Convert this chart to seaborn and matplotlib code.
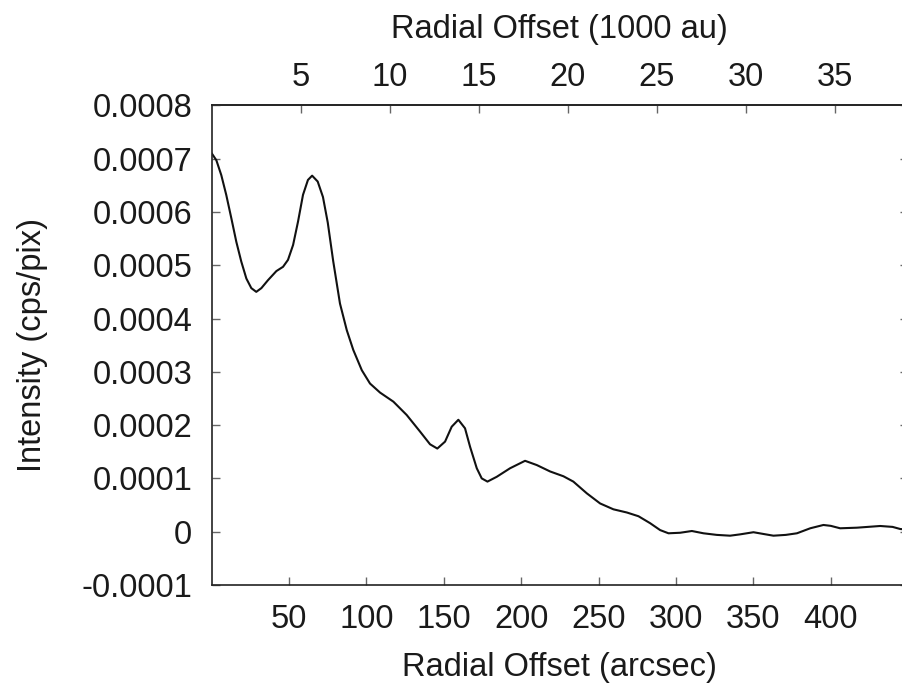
import matplotlib
matplotlib.use("Agg")
import matplotlib.pyplot as plt
import seaborn as sns
import pandas as pd

# Data (radial offset in arcsec, intensity in cps/pix)
offset_arcsec = [0.0, 3.0, 6.2, 9.4, 12.7, 15.9, 19.1, 22.4, 25.6, 28.8, 32.1, 36.4,
                 41.8, 46.1, 49.3, 52.6, 55.8, 59.0, 62.2, 64.9, 68.5, 71.9, 75.0,
                 78.5, 82.9, 87.3, 91.5, 97.0, 102.3, 108.8, 117.4, 126.0, 134.6,
                 141.1, 145.8, 150.8, 155.1, 159.4, 163.7, 167.0, 171.3, 174.5, 178.2,
                 184.2, 192.8, 202.5, 210.1, 218.7, 227.3, 233.7, 242.4, 251.0, 259.6,
                 268.3, 275.8, 283.3, 289.8, 295.2, 302.7, 310.3, 317.8, 326.4, 335.0,
                 341.5, 350.1, 356.0, 363.0, 371.0, 378.2, 386.8, 395.3, 400.0, 406.1,
                 416.9, 432.0, 440.0, 445.0, 450.0]
intensity = [7.10e-4, 6.97e-4, 6.69e-4, 6.32e-4, 5.88e-4, 5.44e-4, 5.07e-4, 4.75e-4,
             4.57e-4, 4.50e-4, 4.57e-4, 4.72e-4, 4.89e-4, 4.97e-4, 5.10e-4, 5.38e-4,
             5.82e-4, 6.32e-4, 6.60e-4, 6.68e-4, 6.57e-4, 6.28e-4, 5.80e-4, 5.08e-4,
             4.28e-4, 3.78e-4, 3.41e-4, 3.03e-4, 2.78e-4, 2.61e-4, 2.44e-4, 2.19e-4,
             1.88e-4, 1.64e-4, 1.56e-4, 1.69e-4, 1.97e-4, 2.10e-4, 1.94e-4, 1.59e-4,
             1.19e-4, 1.00e-4, 9.4e-5, 1.03e-4, 1.19e-4, 1.33e-4, 1.25e-4, 1.13e-4,
             1.04e-4, 9.4e-5, 7.2e-5, 5.3e-5, 4.2e-5, 3.6e-5, 2.9e-5, 1.6e-5, 3e-6,
             -3e-6, -2e-6, 1.3e-6, -3e-6, -6e-6, -7.5e-6, -5e-6, -1e-6, -4e-6, -7.5e-6,
             -6e-6, -3e-6, 6.4e-6, 1.26e-5, 1.1e-5, 6.4e-6, 7.5e-6, 1.07e-5, 9e-6,
             5e-6, 4e-6]

x_ticks = [50, 100, 150, 200, 250, 300, 350, 400]
y_ticks = [-0.0001, 0, 0.0001, 0.0002, 0.0003, 0.0004, 0.0005, 0.0006, 0.0007, 0.0008]
y_tick_labels = ["-0.0001", "0", "0.0001", "0.0002", "0.0003", "0.0004",
                 "0.0005", "0.0006", "0.0007", "0.0008"]
top_ticks = [5, 10, 15, 20, 25, 30, 35]
KAU_PER_ARCSEC = 0.0869

sns.set_style("ticks")
plt.rcParams['font.family'] = ['Liberation Sans', 'DejaVu Sans']
plt.rcParams['text.color'] = '#1a1a1a'
FS = 23.5
TXT = "#1a1a1a"

df = pd.DataFrame({"offset": offset_arcsec, "intensity": intensity})

fig = plt.figure(figsize=(9.02, 6.83), dpi=100)
ax = fig.add_axes([0.2347, 0.1435, 0.7720, 0.7023])
sns.lineplot(data=df, x="offset", y="intensity", ax=ax, color="#111111",
             linewidth=1.5, solid_joinstyle="round", solid_capstyle="round")

ax.set_xlim(0, 450)
ax.set_ylim(-0.0001, 0.0008)
ax.set_xticks(x_ticks)
ax.set_xticklabels([str(t) for t in x_ticks])
ax.set_yticks(y_ticks)
ax.set_yticklabels(y_tick_labels)

for s in ax.spines.values():
    s.set_linewidth(1.2)
    s.set_color("#222222")

ax.tick_params(axis="both", direction="in", length=6, width=1.0, color="#666666",
               labelsize=FS, labelcolor=TXT)
ax.tick_params(axis="y", right=True, pad=14)
ax.tick_params(axis="x", top=False, pad=14)

ax.set_xlabel("Radial Offset (arcsec)", fontsize=FS, color=TXT, labelpad=12)
ax.set_ylabel("Intensity (cps/pix)", fontsize=FS, color=TXT, labelpad=24)

sec = ax.secondary_xaxis("top", functions=(lambda a: a * KAU_PER_ARCSEC,
                                           lambda k: k / KAU_PER_ARCSEC))
sec.set_xticks(top_ticks)
sec.set_xticklabels([str(t) for t in top_ticks])
sec.tick_params(direction="in", length=6, width=1.0, color="#666666",
                labelsize=FS, labelcolor=TXT, pad=9)
sec.spines["top"].set_linewidth(1.2)
sec.spines["top"].set_color("#222222")
sec.set_xlabel("Radial Offset (1000 au)", fontsize=FS, color=TXT, labelpad=17)

fig.savefig("out.png", dpi=100)
